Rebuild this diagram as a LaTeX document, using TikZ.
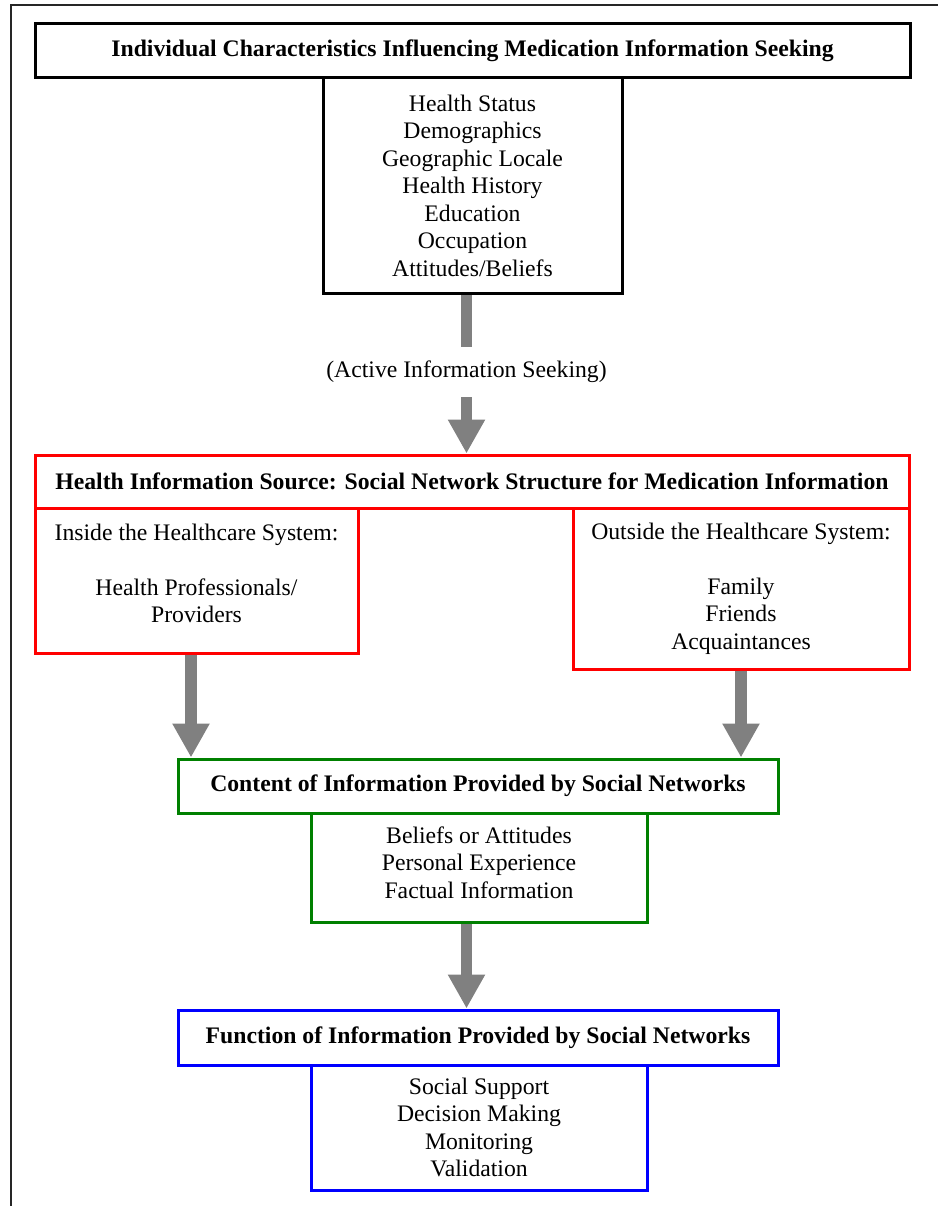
\documentclass[tikz,border=0pt]{standalone}
\usepackage{fontspec}
\setmainfont{Liberation Serif}
\usetikzlibrary{arrows.meta,backgrounds}
\definecolor{arrowgray}{HTML}{808080}
\definecolor{framered}{HTML}{FF0000}
\definecolor{framegreen}{HTML}{008000}
\definecolor{frameblue}{HTML}{0000FF}
\begin{document}
\begin{tikzpicture}[x=1pt,y=-1pt,
  txt/.style={font=\fontsize{23.7}{27.5}\selectfont, align=center, inner sep=0pt},
  boldtxt/.style={txt, font=\fontsize{23.7}{27.5}\selectfont\bfseries},
  framebox/.style={draw=#1, line width=3pt, rectangle, inner sep=0pt},
  blockarrow/.style={draw=arrowgray, line width=11.5pt,
    -{Triangle[width=35pt,length=34pt]}},
  blockshaft/.style={draw=arrowgray, line width=11.5pt},
]
\useasboundingbox (0,0) rectangle (937,1206);

% outer frame (top and left edges)
\draw[line width=2.5pt, black!85] (11,1210) -- (11,5) -- (940,5);

% individual characteristics
\node[framebox=black, boldtxt, minimum width=875pt, minimum height=54pt]
  (chartitle) at (472.5,51) {Individual Characteristics Influencing Medication Information Seeking};
\node[framebox=black, txt, minimum width=299pt, minimum height=215pt]
  (charlist) at (472.5,185.5) {Health Status\\Demographics\\Geographic Locale\\Health History\\Education\\Occupation\\Attitudes/Beliefs};

% active seeking label
\node[txt, minimum height=50pt] (active) at (466.5,372) {(Active Information Seeking)};

% health information source
\node[framebox=framered, boldtxt, minimum width=874pt, minimum height=53pt]
  (srctitle) at (472,481.5) {Health Information Source: Social Network Structure for Medication Information};
\node[framebox=framered, minimum width=323pt, minimum height=145pt]
  (inside) at (196.5,580.5) {};
\node[txt] (insidetext) at (196.5,573.5)
  {Inside the Healthcare System:\\[27.5pt]Health Professionals/\\Providers};
\node[framebox=framered, txt, minimum width=336pt, minimum height=161pt]
  (outside) at (741,588.5)
  {Outside the Healthcare System:\\[27.5pt]Family\\Friends\\Acquaintances};

% content
\node[framebox=framegreen, boldtxt, minimum width=600pt, minimum height=54pt]
  (contenttitle) at (478,786) {Content of Information Provided by Social Networks};
\node[framebox=framegreen, minimum width=336pt, minimum height=109pt]
  (contentlist) at (479,867.5) {};
\node[txt] (contenttext) at (479,862.5)
  {Beliefs or Attitudes\\Personal Experience\\Factual Information};

% function
\node[framebox=frameblue, boldtxt, minimum width=600pt, minimum height=55pt]
  (functitle) at (478,1037.5) {Function of Information Provided by Social Networks};
\node[framebox=frameblue, txt, minimum width=336pt, minimum height=125pt]
  (funclist) at (479,1127.5)
  {Social Support\\Decision Making\\Monitoring\\Validation};

% arrows, kept behind the box borders
\coordinate (leftdrop) at ([xshift=-5.5pt]inside.south);
\coordinate (midline) at (466.5,0);
\begin{scope}[on background layer]
  \draw[blockshaft] (charlist.south -| midline) -- (active.north);
  \draw[blockarrow] (active.south) -- (srctitle.north -| midline);
  \draw[blockarrow] (leftdrop) -- (leftdrop |- contenttitle.north);
  \draw[blockarrow] (outside.south) -- (outside.south |- contenttitle.north);
  \draw[blockarrow] (contentlist.south -| midline) -- (functitle.north -| midline);
\end{scope}
\end{tikzpicture}
\end{document}
